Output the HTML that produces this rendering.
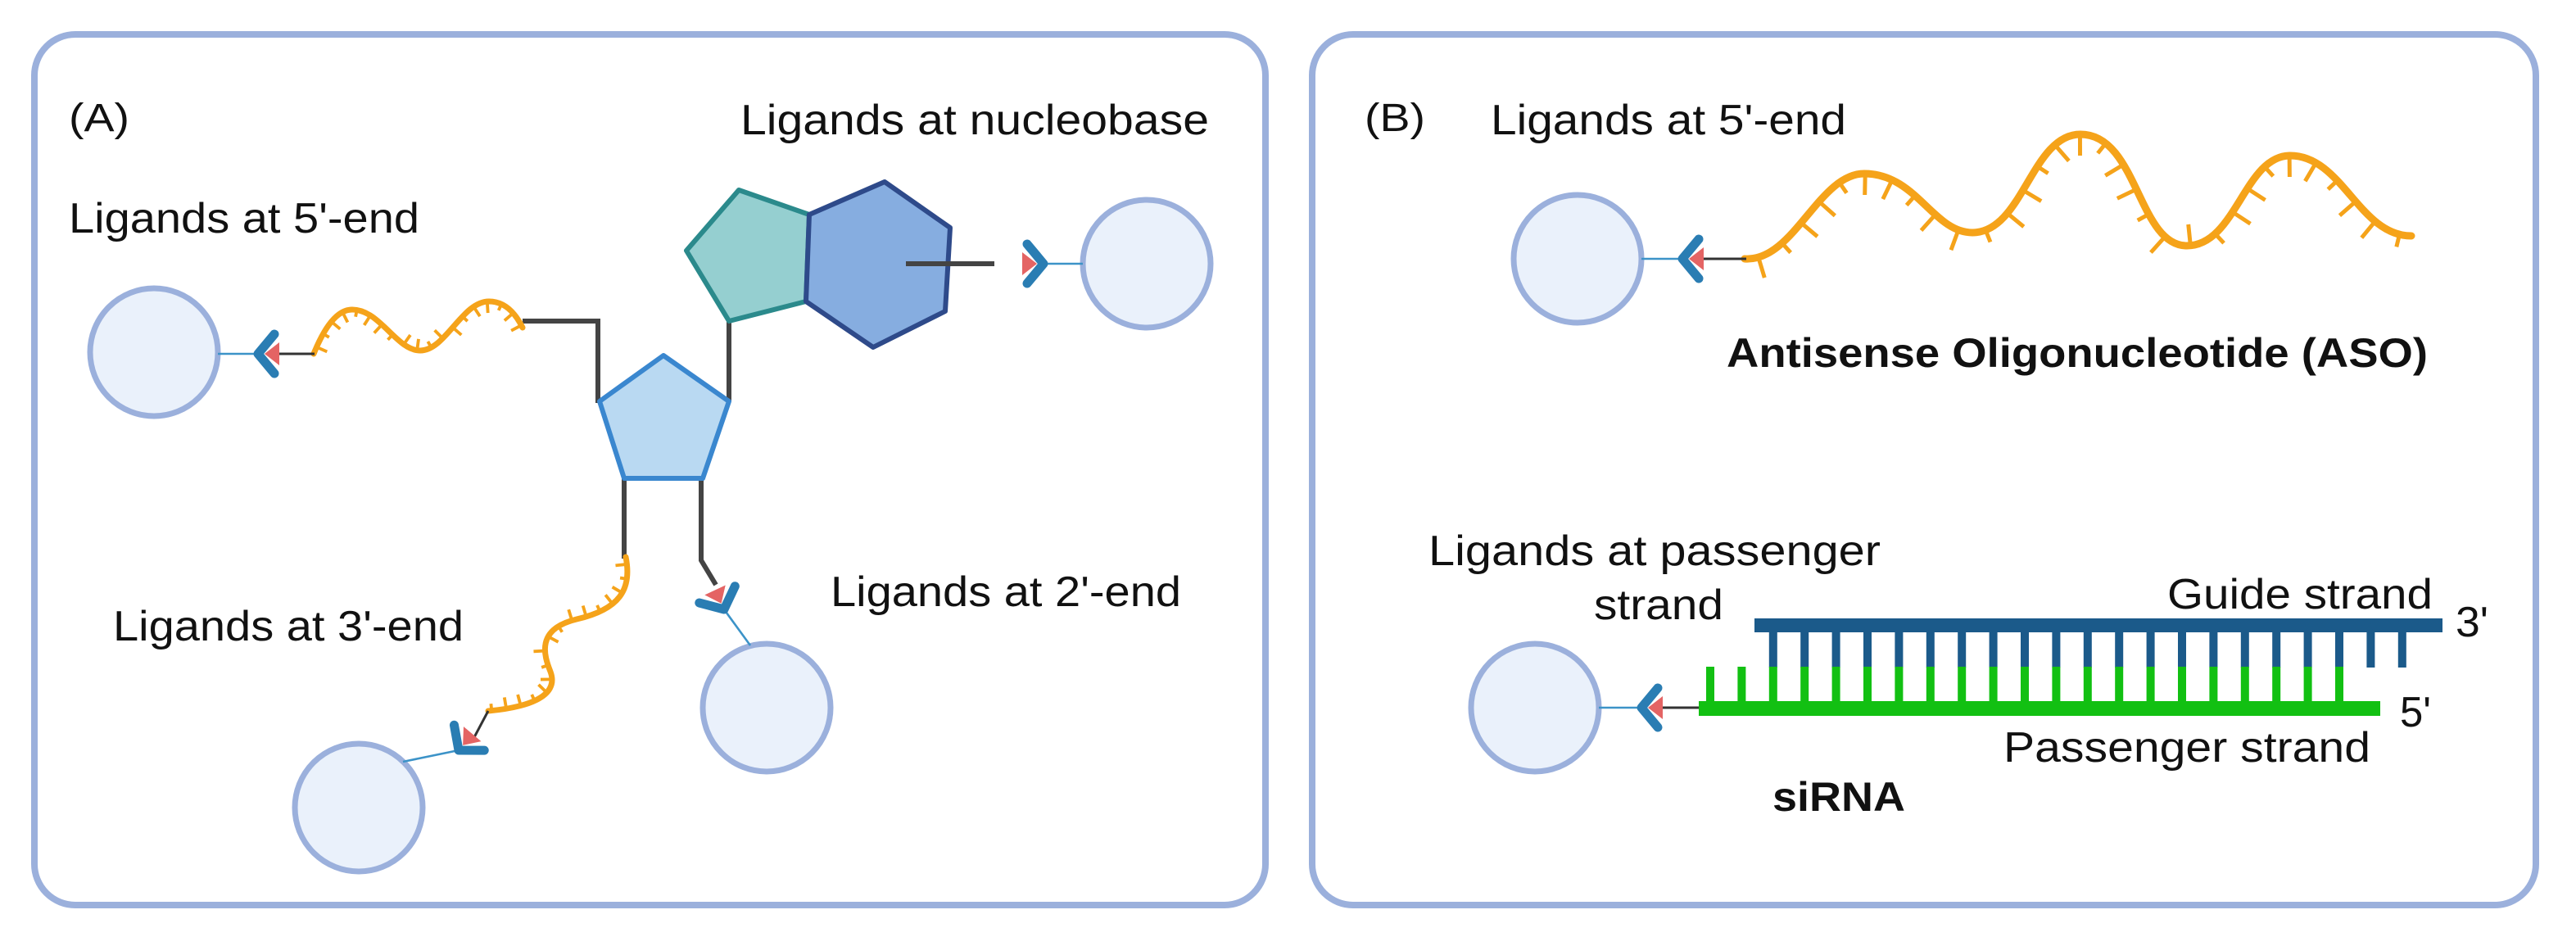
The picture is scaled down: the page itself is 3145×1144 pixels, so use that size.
<!DOCTYPE html>
<html><head><meta charset="utf-8"><style>
html,body{margin:0;padding:0;background:#fff;}
svg{display:block;}
text{font-family:"Liberation Sans",sans-serif;fill:#111;}
</style></head><body>
<svg id="s" width="3145" height="1144" viewBox="0 0 1572.5 572" xmlns="http://www.w3.org/2000/svg">
<defs>
<g id="conn">
  <path d="M10,-12 L0,0 L10,12" fill="none" stroke="#2a7db3" stroke-width="5.5" stroke-linecap="round" stroke-linejoin="round"/>
  <path d="M4,0 L13,-7 L13,7 Z" fill="#e46464"/>
</g>
</defs>
<rect x="21" y="21" width="751.5" height="531.5" rx="25" fill="#fff" stroke="#9bb0dc" stroke-width="4"/>
<rect x="801" y="21" width="747" height="531.5" rx="25" fill="#fff" stroke="#9bb0dc" stroke-width="4"/>

<text x="42" y="80" font-size="24" textLength="37" lengthAdjust="spacingAndGlyphs">(A)</text>
<text x="452" y="82" font-size="26" textLength="286" lengthAdjust="spacingAndGlyphs">Ligands at nucleobase</text>
<text x="42" y="142" font-size="26" textLength="214" lengthAdjust="spacingAndGlyphs">Ligands at 5'-end</text>
<text x="69" y="391" font-size="26" textLength="214" lengthAdjust="spacingAndGlyphs">Ligands at 3'-end</text>
<text x="507" y="370" font-size="26" textLength="214" lengthAdjust="spacingAndGlyphs">Ligands at 2'-end</text>

<g stroke="#444" stroke-width="3" fill="none">
<path d="M319,196 L365,196 L365,246"/>
<path d="M445,245 L445,195"/>
<path d="M381,292 L381,341"/>
<path d="M428,292 L428,342 L437,357"/>
</g>
<polygon points="451,116 494,131 492,184 445,196 419,153" fill="#95cfd0" stroke="#2b8a8c" stroke-width="3" stroke-linejoin="round"/>
<polygon points="540,111 580,139 577,190 533,212 492,184 494,131" fill="#86ade0" stroke="#2e4a8a" stroke-width="3" stroke-linejoin="round"/>
<path d="M553,161 L607,161" stroke="#444" stroke-width="3"/>
<polygon points="405,217 445,245 429,292 381,292 366,245" fill="#b9d9f2" stroke="#3a87cf" stroke-width="3" stroke-linejoin="round"/>

<g id="helices"></g>

<g fill="#eaf1fb" stroke="#9bb0dc" stroke-width="3.5">
<circle cx="94" cy="215" r="39"/>
<circle cx="700" cy="161" r="39"/>
<circle cx="468" cy="432" r="39"/>
<circle cx="219" cy="493" r="39"/>
<circle cx="963" cy="158" r="39"/>
<circle cx="937" cy="432" r="39"/>
</g>
<g stroke="#3c93c8" stroke-width="1.3">
<line x1="133" y1="216" x2="158" y2="216"/>
<line x1="661" y1="161" x2="637" y2="161"/>
<line x1="458" y1="394" x2="442" y2="372"/>
<line x1="246" y1="465" x2="280" y2="458"/>
<line x1="1002" y1="158" x2="1027" y2="158"/>
<line x1="976" y1="432" x2="1002" y2="432"/>
</g>
<g stroke="#333" stroke-width="1.5">
<line x1="170" y1="216" x2="192" y2="216"/>
<line x1="1040" y1="158" x2="1066" y2="158"/>
<line x1="1015" y1="432" x2="1038" y2="432"/>
<line x1="289" y1="451" x2="298" y2="434"/>
</g>
<use href="#conn" transform="translate(157.5,216)"/>
<use href="#conn" transform="translate(637,161) rotate(180)"/>
<use href="#conn" transform="translate(442,372) rotate(-115)"/>
<use href="#conn" transform="translate(280,458) rotate(-50)"/>
<use href="#conn" transform="translate(1027,158)"/>
<use href="#conn" transform="translate(1002,432)"/>

<text x="833" y="80" font-size="24" textLength="37" lengthAdjust="spacingAndGlyphs">(B)</text>
<text x="910" y="82" font-size="26" textLength="217" lengthAdjust="spacingAndGlyphs">Ligands at 5'-end</text>
<text x="1054" y="224" font-size="25" font-weight="bold" textLength="428" lengthAdjust="spacingAndGlyphs">Antisense Oligonucleotide (ASO)</text>
<text x="872" y="345" font-size="26" textLength="276" lengthAdjust="spacingAndGlyphs">Ligands at passenger</text>
<text x="973" y="378" font-size="26" textLength="79" lengthAdjust="spacingAndGlyphs">strand</text>
<text x="1323" y="371.5" font-size="26" textLength="162" lengthAdjust="spacingAndGlyphs">Guide strand</text>
<text x="1499" y="388.5" font-size="26" textLength="20" lengthAdjust="spacingAndGlyphs">3'</text>
<text x="1465" y="443.5" font-size="26" textLength="19" lengthAdjust="spacingAndGlyphs">5'</text>
<text x="1223" y="465" font-size="26" textLength="224" lengthAdjust="spacingAndGlyphs">Passenger strand</text>
<text x="1082" y="495" font-size="25" font-weight="bold" textLength="81" lengthAdjust="spacingAndGlyphs">siRNA</text>

<g id="sirna"></g>
<rect x="1071" y="377.5" width="420" height="8.5" fill="#1b5a8a"/>
<rect x="1037" y="428" width="416" height="9" fill="#12c012"/>
</svg>
<script>
(function(){
var NS="http://www.w3.org/2000/svg";
var s=document.getElementById('sirna');
function r(x,y,w,h,c){var e=document.createElementNS(NS,'rect');e.setAttribute('x',x);e.setAttribute('y',y);e.setAttribute('width',w);e.setAttribute('height',h);e.setAttribute('fill',c);s.appendChild(e);}
for(var i=0;;i++){var x=1044+i*19.2;if(x>1485)break;
  if(i>=2) r(x-2.5,384,5,23.5,'#1b5a8a');
  if(x<1447) r(x-2.5,407,5,23,'#12c012');
}
var h=document.getElementById('helices');
function helix(d,w,tick,step){
  var p=document.createElementNS(NS,'path');p.setAttribute('d',d);p.setAttribute('fill','none');p.setAttribute('stroke','#f5a31a');p.setAttribute('stroke-width',w);p.setAttribute('stroke-linecap','round');h.appendChild(p);
  var L=p.getTotalLength();var k=0;
  var A=p.getPointAtLength(0),B=p.getPointAtLength(L);
  var cx=B.x-A.x,cy=B.y-A.y;
  for(var t=step/2;t<L;t+=step){
    var a=p.getPointAtLength(t),b=p.getPointAtLength(Math.min(L,t+0.5));
    var dx=b.x-a.x,dy=b.y-a.y,n=Math.hypot(dx,dy)||1;var nx=-dy/n,ny=dx/n;
    // side of chord
    var side=cx*(a.y-A.y)-cy*(a.x-A.x);
    var nside=cx*ny-cy*nx;
    if(side*nside>0){nx=-nx;ny=-ny;}
    var len=tick*(k%3==1?0.6:1);k++;
    var l=document.createElementNS(NS,'line');
    l.setAttribute('x1',a.x);l.setAttribute('y1',a.y);
    l.setAttribute('x2',a.x+nx*len);l.setAttribute('y2',a.y+ny*len);
    l.setAttribute('stroke','#f5a31a');l.setAttribute('stroke-width',w*0.55);
    h.appendChild(l);
  }
}
helix("M191.5,216 C200,195 208,189 215,189 C232,189 242,214 256.5,214 C272,214 282,184 298.5,184 C310,184 316,194 319,200",3.5,7,9);
helix("M382,340 C386,360 378,372 352,378 C327,384 332,400 336,410 C342,426 320,432 298,434",3.5,7,9);
helix("M1065,158 C1095,160 1110,106 1138,106 C1170,106 1180,142 1204,142 C1235,142 1240,82 1270,82 C1305,82 1305,150 1335,150 C1365,150 1370,95 1398,95 C1430,95 1440,144 1472,144",4.5,13,17);
})();
</script>
</body></html>
